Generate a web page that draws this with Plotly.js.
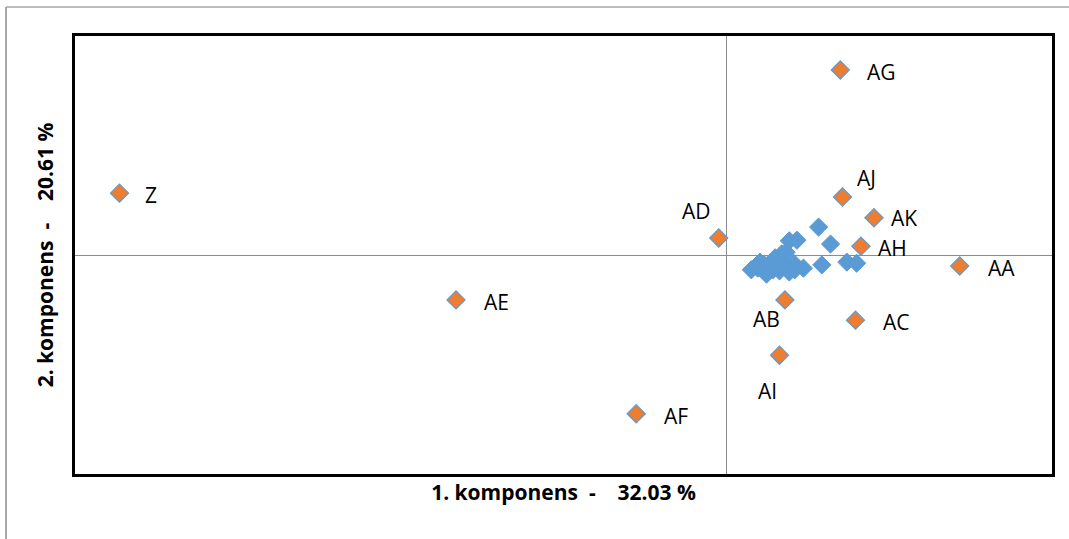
<!DOCTYPE html>
<html>
<head>
<meta charset="utf-8">
<script src="https://cdn.plot.ly/plotly-3.0.1.min.js"></script>
<style>html,body{margin:0;padding:0;background:#fff;}#chart{width:1069px;height:539px;}</style>
</head>
<body>
<div id="chart"></div>
<script>
// Named (orange) observations
const namedLabels = ["Z", "AE", "AF", "AD", "AG", "AJ", "AK", "AH", "AA", "AB", "AC", "AI"];
const namedX = [-5.59, -2.49, -0.83, -0.07, 1.05, 1.07, 1.36, 1.24, 2.15, 0.54, 1.19, 0.49];
const namedY = [1.13, -0.82, -2.90, 0.31, 3.38, 1.06, 0.68, 0.16, -0.20, -0.82, -1.19, -1.83];
// label offsets (px) relative to marker
const labelDX = [31, 40, 40, -22, 41, 24, 30, 32, 42, -18, 41, -12];
const labelDY = [-2, -2, -2, 27, -2, 19, 0, -2, -2, -19, -2, -36];

// Unnamed (blue) observations
const otherX = [0.23, 0.31, 0.37, 0.41, 0.45, 0.49, 0.52, 0.55, 0.58, 0.62, 0.58, 0.65, 0.71, 0.43, 0.35, 0.51, 0.63, 0.85, 0.96, 0.88, 1.11, 1.20, 0.29];
const otherY = [-0.27, -0.13, -0.35, -0.20, -0.05, -0.29, -0.13, 0.05, -0.31, -0.15, 0.26, 0.27, -0.24, -0.27, -0.18, 0.02, -0.27, 0.51, 0.20, -0.18, -0.13, -0.15, -0.24];

const xTitle = "1. komponens\u00A0\u00A0-\u00A0\u00A0\u00A0 32.03 %";
const yTitle = "2. komponens\u00A0\u00A0-\u00A0\u00A0\u00A0 20.61 %";

const FONT = "'Open Sans', Lato, 'DejaVu Sans', sans-serif";

const traces = [
  {
    type: "scatter", mode: "markers", x: otherX, y: otherY,
    marker: {symbol: "diamond", size: 14, color: "#5B9BD5", line: {color: "#5B9BD5", width: 1}},
    hoverinfo: "skip", showlegend: false
  },
  {
    type: "scatter", mode: "markers", x: namedX, y: namedY,
    marker: {symbol: "diamond", size: 14, color: "#ED7D31", line: {color: "#5B9BD5", width: 1.2}},
    hoverinfo: "skip", showlegend: false
  }
];

const annotations = namedLabels.map((t, i) => ({
  x: namedX[i], y: namedY[i], xref: "x", yref: "y", text: t, showarrow: false,
  xshift: labelDX[i], yshift: labelDY[i],
  font: {family: FONT, size: 21, color: "#000"}
}));

const grey = "#a6a6a6";
const layout = {
  width: 1069, height: 539,
  margin: {l: 75, r: 17, t: 36, b: 65, pad: 0},
  paper_bgcolor: "#fff", plot_bgcolor: "#fff",
  showlegend: false,
  xaxis: {
    range: [-6, 3], showgrid: false, showticklabels: false, ticks: "",
    zeroline: true, zerolinecolor: "#8c8c8c", zerolinewidth: 1,
    showline: true, mirror: true, linecolor: "#000", linewidth: 3,
    title: {text: xTitle, standoff: 10, font: {family: FONT, size: 21, color: "#000", weight: "bold"}}
  },
  yaxis: {
    range: [-4, 4], showgrid: false, showticklabels: false, ticks: "",
    zeroline: true, zerolinecolor: "#8c8c8c", zerolinewidth: 1,
    showline: true, mirror: true, linecolor: "#000", linewidth: 3,
    title: {text: yTitle, standoff: 13, font: {family: FONT, size: 21, color: "#000", weight: "bold"}}
  },
  annotations: annotations,
  shapes: [
    {type: "line", xref: "paper", yref: "paper", x0: -0.0706, x1: 1.1, y0: 1.0662, y1: 1.0662, line: {color: grey, width: 1.5}},
    {type: "line", xref: "paper", yref: "paper", x0: -0.0706, x1: -0.0706, y0: -0.2, y1: 1.0662, line: {color: grey, width: 2}}
  ]
};

Plotly.newPlot("chart", traces, layout, {displayModeBar: false, staticPlot: true});
</script>
</body>
</html>
